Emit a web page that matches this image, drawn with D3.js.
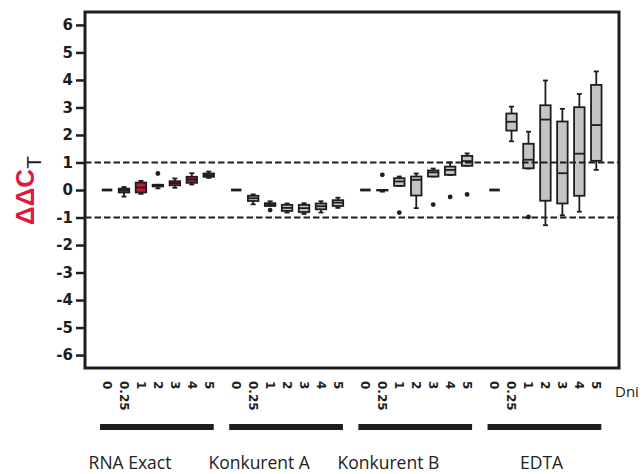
<!DOCTYPE html>
<html>
<head>
<meta charset="utf-8">
<script src="https://cdn.jsdelivr.net/npm/d3@7"></script>
<style>
  body { margin: 0; background: #fff; }
  svg { display: block; }
  .bold { font-family: "DejaVu Sans", sans-serif; font-weight: 700; }
  .ylab { font-family: "Liberation Sans", Arial, sans-serif; font-weight: 700; }
</style>
</head>
<body>
<div class="chart"></div>
<script>
// kategorie i dni
const groups = ['RNA Exact', 'Konkurent A', 'Konkurent B', 'EDTA'];
const days = ['0', '0.25', '1', '2', '3', '4', '5'];
const groupFill = ['#c8143a', '#c4c4c4', '#c4c4c4', '#c4c4c4'];

// [min, q1, mediana, q3, max] dla kazdego dnia
const rnaExact = [
  [0, 0, 0, 0, 0],
  [-0.24, -0.09, -0.01, 0.05, 0.11],
  [-0.14, -0.09, 0.09, 0.27, 0.33],
  [0.06, 0.13, 0.16, 0.19, 0.19],
  [0.08, 0.17, 0.25, 0.32, 0.42],
  [0.2, 0.26, 0.38, 0.48, 0.61],
  [0.44, 0.48, 0.54, 0.6, 0.67]
];
const konkurentA = [
  [0, 0, 0, 0, 0],
  [-0.52, -0.4, -0.3, -0.21, -0.16],
  [-0.58, -0.58, -0.52, -0.48, -0.41],
  [-0.82, -0.76, -0.65, -0.54, -0.49],
  [-0.87, -0.8, -0.66, -0.54, -0.48],
  [-0.82, -0.7, -0.59, -0.49, -0.41],
  [-0.65, -0.58, -0.46, -0.37, -0.28]
];
const konkurentB = [
  [0, 0, 0, 0, 0],
  [-0.06, 0, 0, 0, 0],
  [0.15, 0.15, 0.31, 0.43, 0.49],
  [-0.66, -0.2, 0.37, 0.49, 0.6],
  [0.49, 0.49, 0.64, 0.71, 0.78],
  [0.55, 0.55, 0.73, 0.85, 1.0],
  [0.88, 0.88, 1.05, 1.24, 1.33]
];
const edta = [
  [0, 0, 0, 0, 0],
  [1.77, 2.16, 2.48, 2.78, 3.03],
  [0.78, 0.79, 1.1, 1.68, 2.12],
  [-1.28, -0.39, 2.56, 3.08, 3.98],
  [-0.92, -0.49, 0.61, 2.49, 2.95],
  [-0.79, -0.21, 1.32, 3.01, 3.49],
  [0.73, 1.06, 2.36, 3.82, 4.31]
];
const boxData = [rnaExact, konkurentA, konkurentB, edta];

// punkty odstajace: [grupa, dzien, wartosc]
const outliers = [
  [0, 3, 0.6],
  [1, 2, -0.73],
  [2, 1, 0.55],
  [2, 2, -0.82],
  [2, 4, -0.53],
  [2, 5, -0.25],
  [2, 6, -0.16],
  [3, 2, -0.98]
];

const yTicks = [6, 5, 4, 3, 2, 1, 0, -1, -2, -3, -4, -5, -6];
const refLines = [1, -1];

const W = 643, H = 474;
const mLeft = 85, mRight = 619, mTop = 12, mBottom = 368;
const groupStep = 7.62;

const svg = d3.select('.chart').append('svg')
  .attr('width', W).attr('height', H);

const pos = (g, j) => g * groupStep + j;
const x = d3.scaleLinear().domain([-1.3, 30.2]).range([mLeft, mRight]);
const y = d3.scaleLinear().domain([-6.47, 6.47]).range([mBottom, mTop]);

// pudełka
const rows = [];
boxData.forEach((arr, g) => arr.forEach((s, j) => rows.push({g, j, s})));

const boxW = 10.5, capW = 5;
const bg = svg.append('g').attr('stroke', '#1e1e1e').attr('stroke-width', 1.8);
rows.forEach(d => {
  const cx = x(pos(d.g, d.j));
  const [lo, q1, med, q3, hi] = d.s;
  if (q3 - q1 === 0 && hi - lo === 0) {
    bg.append('line').attr('x1', cx - boxW / 2).attr('x2', cx + boxW / 2)
      .attr('y1', y(med)).attr('y2', y(med)).attr('stroke-width', 2.8);
    return;
  }
  // wasy
  bg.append('line').attr('x1', cx).attr('x2', cx).attr('y1', y(hi)).attr('y2', y(q3));
  bg.append('line').attr('x1', cx).attr('x2', cx).attr('y1', y(q1)).attr('y2', y(lo));
  bg.append('line').attr('x1', cx - capW / 2).attr('x2', cx + capW / 2).attr('y1', y(hi)).attr('y2', y(hi));
  bg.append('line').attr('x1', cx - capW / 2).attr('x2', cx + capW / 2).attr('y1', y(lo)).attr('y2', y(lo));
  bg.append('rect')
    .attr('x', cx - boxW / 2).attr('width', boxW)
    .attr('y', y(q3)).attr('height', Math.max(y(q1) - y(q3), 0.5))
    .attr('fill', groupFill[d.g]);
  bg.append('line').attr('x1', cx - boxW / 2).attr('x2', cx + boxW / 2)
    .attr('y1', y(med)).attr('y2', y(med));
});

svg.append('g').selectAll('circle')
  .data(outliers).enter().append('circle')
  .attr('cx', d => x(pos(d[0], d[1])))
  .attr('cy', d => y(d[2]))
  .attr('r', 2.4)
  .attr('fill', '#1e1e1e');

// linie przerywane
svg.append('g').selectAll('line')
  .data(refLines).enter().append('line')
  .attr('x1', mLeft).attr('x2', mRight)
  .attr('y1', d => y(d)).attr('y2', d => y(d))
  .attr('stroke', '#1e1e1e').attr('stroke-width', 2)
  .attr('stroke-dasharray', '6.5,3');

// ramka
svg.append('rect')
  .attr('x', mLeft).attr('y', mTop)
  .attr('width', mRight - mLeft).attr('height', mBottom - mTop)
  .attr('fill', 'none').attr('stroke', '#1e1e1e').attr('stroke-width', 3);

// os Y
const yAxis = d3.axisLeft(y).tickValues(yTicks).tickSize(9).tickPadding(3).tickFormat(d => String(d));
const ya = svg.append('g').attr('transform', `translate(${mLeft},0)`).call(yAxis);
ya.attr('font-family', null).attr('font-size', null);
ya.select('.domain').remove();
ya.selectAll('.tick line').attr('stroke', '#1e1e1e').attr('stroke-width', 2.5);
ya.selectAll('.tick text')
  .attr('class', 'bold')
  .style('font-size', '15px').attr('fill', '#1e1e1e');

// etykiety dni
const xl = svg.append('g');
rows.forEach(d => {
  xl.append('text')
    .attr('class', 'bold')
    .attr('transform', `translate(${x(pos(d.g, d.j))},381) rotate(90)`)
    .attr('dy', '0.35em')
    .style('font-size', '12px').attr('fill', '#1e1e1e')
    .text(days[d.j]);
});
svg.append('text')
  .attr('x', 615).attr('y', 397)
  .attr('font-family', 'Open Sans, sans-serif')
  .attr('font-size', 15).attr('fill', '#222')
  .text('Dni');

// belki grup i nazwy
groups.forEach((name, g) => {
  const x0 = x(pos(g, 0)) - 7, x1 = x(pos(g, 6)) + 5;
  svg.append('line')
    .attr('x1', x0).attr('x2', x1).attr('y1', 427).attr('y2', 427)
    .attr('stroke', '#1e1e1e').attr('stroke-width', 6);
  svg.append('text')
    .attr('x', x(pos(g, 0)) + (g === 3 ? 47 : 23)).attr('y', 469)
    .attr('text-anchor', 'middle')
    .attr('font-family', 'Open Sans, sans-serif')
    .attr('font-size', 17.5).attr('fill', '#222')
    .text(name);
});

// tytul osi Y
const yl = svg.append('text')
  .attr('class', 'ylab')
  .attr('transform', 'translate(34,225) rotate(-90)')
  .style('font-size', '26px');
yl.append('tspan').attr('fill', '#e0183c').text('ΔΔC');
yl.append('tspan').attr('fill', '#1e1e1e').style('font-weight', 'normal')
  .style('font-size', '21px').attr('dy', 7).text('T');
</script>
</body>
</html>
